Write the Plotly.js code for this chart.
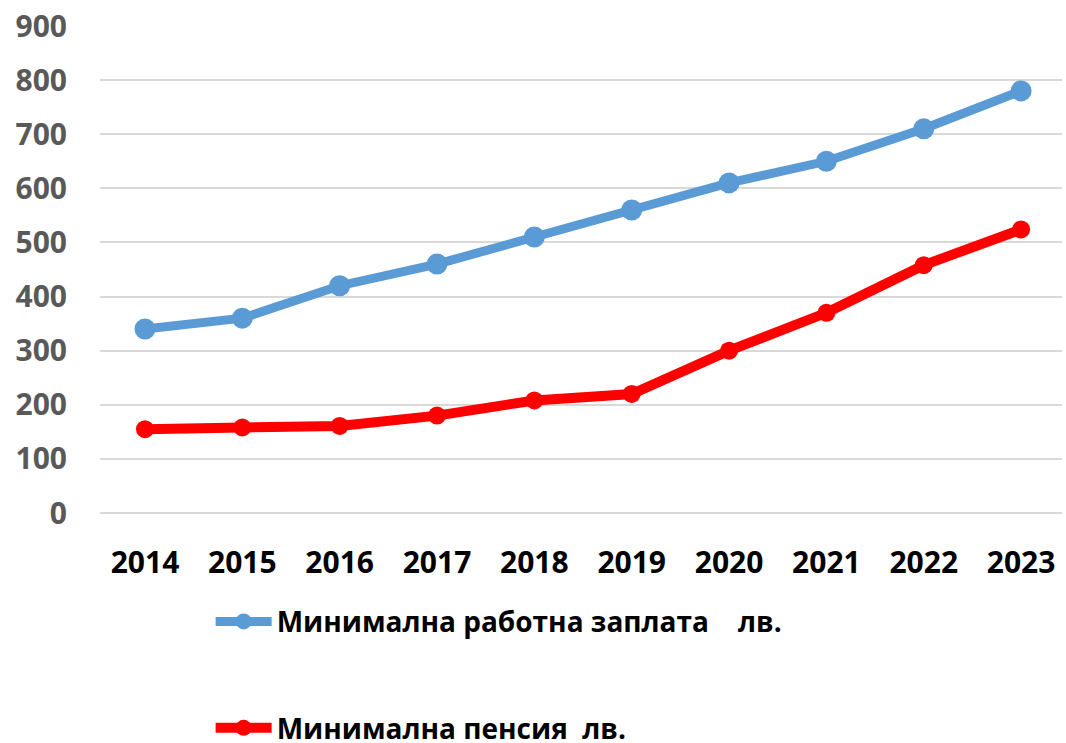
<!DOCTYPE html>
<html>
<head>
<meta charset="utf-8">
<script src="https://cdn.plot.ly/plotly-3.0.1.min.js"></script>
<style>html,body{margin:0;padding:0;background:#fff;}#chart{width:1066px;height:743px;}</style>
</head>
<body>
<div id="chart"></div>
<script>
const years = ['2014','2015','2016','2017','2018','2019','2020','2021','2022','2023'];
const minWage = [340, 360, 420, 460, 510, 560, 610, 650, 710, 780];
const minPension = [155, 158, 161, 180, 208, 220, 300, 370, 458, 524];
const wageName = 'Минимална работна заплата\u00a0\u00a0\u00a0\u00a0лв.';
const pensionName = 'Минимална пенсия\u00a0\u00a0лв.';
const yTicks = [0,100,200,300,400,500,600,700,800,900];

const traces = [
  {x: years, y: minWage, name: wageName, type: 'scatter', mode: 'lines+markers',
   legendgroup: 'a',
   line: {color: '#5B9BD5', width: 9}, marker: {color: '#5B9BD5', size: 21}},
  {x: years, y: minPension, name: pensionName, type: 'scatter', mode: 'lines+markers',
   legendgroup: 'b',
   line: {color: '#FF0000', width: 10}, marker: {color: '#FF0000', size: 18}}
];

const layout = {
  width: 1066, height: 743,
  margin: {l: 100, r: 4, t: 26, b: 230, autoexpand: false},
  paper_bgcolor: '#ffffff', plot_bgcolor: '#ffffff',
  font: {family: 'Open Sans, sans-serif'},
  xaxis: {type: 'category', range: [-0.462, 9.42], showgrid: false, zeroline: false,
          showline: false, ticks: 'outside', ticklen: 23, tickcolor: 'rgba(0,0,0,0)',
          tickfont: {family: 'Open Sans', size: 30, color: '#000000', weight: 'bold'}},
  yaxis: {range: [0, 900], tickvals: yTicks, showgrid: true, gridcolor: '#D9D9D9', gridwidth: 2,
          zeroline: true, zerolinecolor: '#D9D9D9', zerolinewidth: 2,
          showline: false, ticks: 'outside', ticklen: 26, tickcolor: 'rgba(0,0,0,0)',
          tickfont: {family: 'Open Sans', size: 30, color: '#595959', weight: 'bold'}},
  showlegend: true,
  legend: {orientation: 'v', x: 0.115, xanchor: 'left', y: -0.172, yanchor: 'top',
           tracegroupgap: 67, itemwidth: 56,
           font: {family: 'Open Sans', size: 28, color: '#000000', weight: 'bold'}}
};

Plotly.newPlot('chart', traces, layout, {displayModeBar: false, staticPlot: true});
</script>
</body>
</html>
